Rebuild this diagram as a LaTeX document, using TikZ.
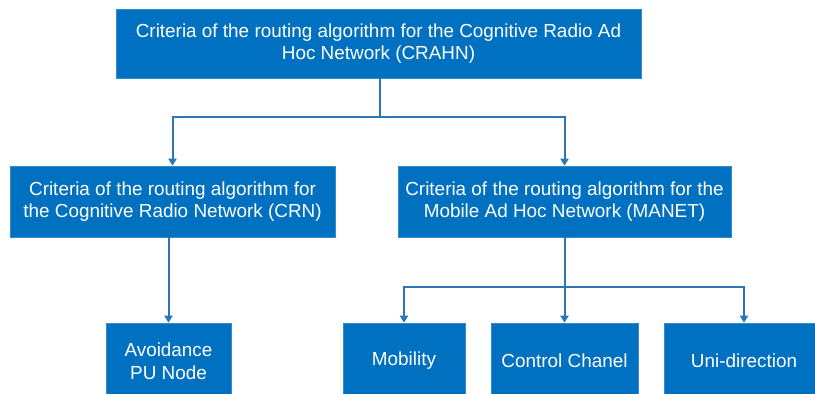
\documentclass[tikz,border=0pt]{standalone}
\usepackage{fontspec}
\setmainfont{Liberation Sans}
\usetikzlibrary{arrows.meta}
\usetikzlibrary{calc}
\definecolor{boxBlue}{RGB}{0,112,192}
\definecolor{lineBlue}{RGB}{46,117,182}

\begin{document}
\begin{tikzpicture}[x=1pt,y=-1pt,
  crit/.style={fill=boxBlue, draw=boxBlue!80!white, line width=0.6pt, text=white, align=center,
    inner sep=0pt, font=\fontsize{18.9}{22.5}\selectfont},
  link/.style={lineBlue, line width=2pt},
  arr/.style={link, -{Triangle[width=8pt,length=7pt]}}]
\useasboundingbox (0,0) rectangle (815,394);
\clip (0,0) rectangle (815,394);

% boxes
\node [crit, minimum width=525, minimum height=69] (crahn) at (378.5,43.5)
  {Criteria of the routing algorithm for the Cognitive Radio Ad\\Hoc Network (CRAHN)};
\node [crit, minimum width=325, minimum height=71] (crn) at (172.5,201.5)
  {Criteria of the routing algorithm for\\the Cognitive Radio Network (CRN)};
\node [crit, minimum width=333, minimum height=71] (manet) at (564.5,201.5)
  {Criteria of the routing algorithm for the\\Mobile Ad Hoc Network (MANET)};
\node [crit, minimum width=125, minimum height=76] (avoid) at (168.5,361) {Avoidance\\PU Node};
\node [crit, minimum width=122, minimum height=76] (mob) at (404,361) {Mobility};
\node [crit, minimum width=147, minimum height=76] (ctrl) at (564.5,361) {Control Chanel};
\node [crit, minimum width=160, minimum height=76] (uni) at (744,361) {Uni-direction};

% connectors
\coordinate (j1) at ($(crahn.south)+(1.5,39)$);
\coordinate (j2) at ($(manet.south)+(0,50)$);
\draw [link] (crahn.south -| j1) -- (j1);
\draw [arr] (j1) -| (crn.north);
\draw [arr] (j1) -| (manet.north);
\draw [arr] (crn.south -| avoid.north) -- (avoid.north);
\draw [link] (manet.south) -- (j2);
\draw [arr] (j2) -| (mob.north);
\draw [arr] (j2) -- (ctrl.north);
\draw [arr] (j2) -| (uni.north);
\end{tikzpicture}
\end{document}
